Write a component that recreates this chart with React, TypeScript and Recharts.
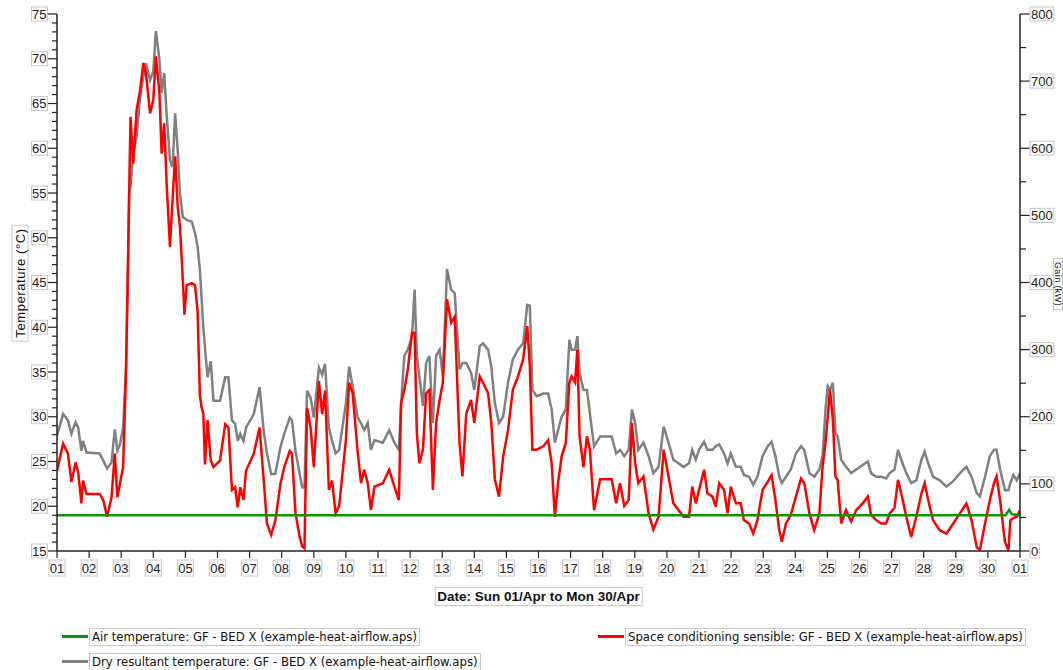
import { LineChart, Line, XAxis, YAxis } from "recharts";

const W = 1063;
const H = 670;
const PLOT_LEFT = 57;
const PLOT_RIGHT = 1020;
const PLOT_TOP = 14;
const PLOT_BOTTOM = 551;

const TICK_FONT = "'Liberation Sans', Arial, sans-serif";
const LEGEND_FONT = "'DejaVu Sans', Verdana, sans-serif";
const BOX = "#c8c8c8";
const AXIS = "#222";

// x axis: days since Sun 01/Apr 00:00
const dayTicks = [0, 1, 2, 3, 4, 5, 6, 7, 8, 9, 10, 11, 12, 13, 14, 15, 16, 17, 18, 19, 20, 21, 22, 23, 24, 25, 26, 27, 28, 29, 30];
const dayLabels = ["01", "02", "03", "04", "05", "06", "07", "08", "09", "10", "11", "12", "13", "14", "15", "16", "17", "18", "19", "20", "21", "22", "23", "24", "25", "26", "27", "28", "29", "30", "01"];
const tempTicks = [15, 20, 25, 30, 35, 40, 45, 50, 55, 60, 65, 70, 75];
const gainTicks = [0, 100, 200, 300, 400, 500, 600, 700, 800];

// minor tick marks (1 °C / 50 kW)
const tempMinor = Array.from({ length: 61 }, (_, i) => 15 + i);
const gainMinor = Array.from({ length: 17 }, (_, i) => i * 50);

const days = [
  0, 0.19, 0.34, 0.45, 0.58, 0.66, 0.76, 0.81, 0.92, 1.33, 1.44, 1.56, 1.7, 1.8, 1.88, 1.96, 2.06, 2.15, 2.2,
  2.25, 2.29, 2.375, 2.48, 2.58, 2.69, 2.77, 2.9, 3.0, 3.08, 3.19, 3.26, 3.34, 3.42, 3.52, 3.6, 3.68, 3.76, 3.83, 3.92, 3.97, 4.04, 4.2, 4.3, 4.38, 4.45, 4.5,
  4.56, 4.61, 4.69, 4.79, 4.875, 5.08, 5.24, 5.34, 5.45, 5.55, 5.63, 5.71, 5.81, 5.89, 6.13, 6.31, 6.44, 6.54, 6.67, 6.8, 6.96, 7.08, 7.25, 7.32, 7.43, 7.56, 7.64, 7.71, 7.79, 7.9, 8.0, 8.16, 8.26, 8.35, 8.47, 8.57, 8.68,
  8.79, 9.0, 9.1, 9.21, 9.36, 9.47, 9.57, 9.68, 9.78, 9.89, 10.15, 10.35, 10.51, 10.65, 10.72, 10.82, 10.93, 11.06, 11.14, 11.21,
  11.29, 11.4, 11.5, 11.6, 11.71, 11.81, 11.92, 12.02, 12.15, 12.28, 12.39, 12.54, 12.63, 12.75, 12.9, 13.0, 13.17, 13.27, 13.43, 13.53,
  13.64, 13.77, 13.9, 14.05, 14.2, 14.36, 14.52, 14.65, 14.73, 14.81, 14.94, 15.15, 15.3, 15.41, 15.51, 15.61, 15.72, 15.85, 15.96, 16.03,
  16.14, 16.21, 16.28, 16.4, 16.51, 16.6, 16.73, 16.92, 17.13, 17.28, 17.42, 17.54, 17.67, 17.81, 17.91, 18.01, 18.11, 18.27, 18.43, 18.58,
  18.74, 18.9, 19.05, 19.2, 19.36, 19.52,
  19.69, 19.79, 19.9, 20.0, 20.16, 20.26, 20.42, 20.52, 20.63, 20.78, 20.89, 20.99, 21.15, 21.3, 21.4, 21.56, 21.69, 21.82, 21.98, 22.14,
  22.26, 22.38, 22.5, 22.58, 22.71, 22.86, 23.02, 23.18, 23.28, 23.44, 23.59, 23.75, 23.85, 23.94, 24.01, 24.08, 24.17, 24.25, 24.32, 24.43,
  24.58, 24.74, 24.9, 25.1, 25.26, 25.36, 25.52, 25.68, 25.83, 25.94, 26.09, 26.2, 26.3, 26.46, 26.61, 26.77, 26.93, 27.03, 27.14, 27.29,
  27.5, 27.71, 27.92, 28.13, 28.33, 28.49, 28.65, 28.75, 28.91, 29.06, 29.19, 29.27, 29.38, 29.53, 29.64, 29.7, 29.79, 29.9, 30.0,
];

// Dry resultant temperature (°C)
const dryResultant = [
  27.9, 30.3, 29.6, 28.1, 29.4, 28.8, 26.2, 27.3, 26.0, 25.9, 25.1, 24.2, 24.9, 28.6, 26.2, 26.9, 28.8, 35.5, 44,
  55.3, 55.7, 59.4, 61.3, 65.4, 68.0, 69.5, 67.6, 68.6, 73.1, 69.9, 66.2, 68.4, 63.5, 58.7, 57.9, 63.9, 59.8, 55.0, 52.3, 52.2, 52.0, 51.8, 50.5, 49.0, 46.5, 43.5,
  39.9, 37.7, 34.4, 36.2, 31.8, 31.8, 34.4, 34.4, 29.6, 29.2, 27.3, 28.1, 27.3, 28.8, 30.3, 33.3, 28.4, 25.9, 23.6, 23.6, 26.6, 28.1, 29.9, 29.6, 26.2, 23.6, 22.1, 22.1, 32.9, 32.1, 29.9, 35.5, 34.7, 35.9, 28.8, 27.3, 25.9,
  26.3, 31.5, 35.6, 33.4, 30.0, 29.3, 28.5, 29.3, 26.3, 27.4, 27.1, 28.5, 27.1, 26.3, 31.5, 36.8, 37.5, 39.0, 44.2, 36.8,
  34.5, 31.2, 36.0, 36.8, 29.3, 36.8, 37.5, 34.5, 46.5, 44.2, 43.8, 35.3, 36.0, 36.0, 34.9, 33.0, 37.9, 38.2, 37.5, 35.6,
  31.5, 29.3, 30.0, 33.8, 36.4, 37.5, 38.2, 42.5, 42.4, 33.0, 32.3, 32.6, 32.6, 30.8, 27.1, 28.5, 30.0, 30.8, 38.6, 37.5,
  37.5, 39.0, 34.9, 33.0, 33.0, 30.4, 26.7, 27.8, 27.8, 27.8, 25.9, 26.3, 25.6, 26.3, 30.8, 29.3, 26.3, 27.1, 25.6, 23.7,
  24.4, 28.9, 27.1, 25.2, 24.8, 24.4,
  24.8, 26.3, 25.2, 26.3, 27.2, 26.3, 26.3, 26.7, 26.9, 25.9, 24.8, 25.9, 24.4, 24.4, 23.5, 23.3, 22.4, 23.3, 25.6, 26.7,
  27.2, 25.6, 23.3, 22.6, 23.3, 24.1, 25.9, 26.7, 26.3, 23.7, 23.3, 24.1, 25.6, 30.8, 33.4, 33.0, 33.8, 28.2, 27.8, 25.2,
  24.4, 23.7, 24.1, 24.6, 25.0, 23.7, 23.3, 23.3, 23.1, 23.7, 24.1, 26.3, 25.2, 23.7, 22.6, 22.9, 25.2, 26.1, 24.8, 23.3,
  22.9, 22.2, 22.8, 23.7, 24.4, 23.3, 21.5, 21.1, 23.3, 25.6, 26.3, 26.3, 24.1, 21.8, 21.8, 22.6, 23.5, 22.9, 23.7,
];

// Space conditioning sensible gain (kW)
const sensibleGain = [
  120, 160, 145, 103, 132, 117, 71, 105, 85, 85, 76, 51, 80, 145, 80, 100, 125, 268, 400,
  537, 647, 577, 657, 683, 727, 712, 652, 672, 737, 683, 592, 637, 543, 453, 523, 588, 513, 483, 404, 352, 396, 399, 396, 357, 233, 215,
  204, 129, 195, 135, 125, 135, 189, 184, 91, 95, 65, 95, 76, 120, 145, 184, 105, 41, 24, 45, 100, 125, 149, 145, 56, 21, 7, 4, 213, 184, 125, 253, 204, 239, 91, 105, 56,
  67, 165, 251, 235, 151, 101, 121, 101, 61, 96, 101, 121, 96, 76, 220, 240, 271, 325, 325, 176,
  131, 151, 235, 240, 91, 191, 225, 251, 375, 340, 349, 161, 111, 205, 225, 191, 260, 251, 235, 191,
  107, 81, 141, 180, 240, 260, 285, 335, 275, 151, 151, 156, 165, 131, 51, 101, 141, 161, 251, 260,
  251, 300, 171, 125, 171, 151, 61, 107, 107, 107, 71, 101, 67, 76, 191, 131, 101, 111, 56, 32,
  51, 151, 111, 71, 61, 51,
  51, 96, 71, 91, 121, 86, 81, 66, 101, 91, 56, 96, 71, 71, 46, 41, 26, 46, 91, 103,
  113, 76, 31, 14, 41, 54, 81, 108, 101, 56, 31, 56, 126, 161, 200, 240, 196, 111, 106, 41,
  61, 44, 61, 71, 81, 54, 46, 41, 41, 56, 64, 106, 86, 51, 21, 51, 86, 101, 76, 46,
  31, 26, 41, 56, 71, 46, 6, 1, 41, 76, 101, 111, 76, 14, 1, 46, 49, 51, 61,
];

// Air temperature (°C)
const airDays = [0, 29.55, 29.66, 29.75, 30];
const airTemp = [19, 19, 19.6, 19.1, 19];

const mainData = days.map((d, i) => ({ d, dry: dryResultant[i], gain: sensibleGain[i] }));
const airData = airDays.map((d, i) => ({ d, air: airTemp[i] }));

function LeftTick(props: any) {
  const { y, payload } = props;
  const v = payload.value;
  const major = tempTicks.includes(v);
  return (
    <g>
      <line x1={PLOT_LEFT - (major ? 9 : 5)} x2={PLOT_LEFT} y1={y} y2={y} stroke={AXIS} strokeWidth={1.2} />
      {major && (
        <g>
          <rect x={PLOT_LEFT - 25.5} y={y - 7} width={16} height={14} fill="#fff" stroke={BOX} />
          <text x={PLOT_LEFT - 10.5} y={y + 4.6} textAnchor="end" fontSize={13} fill="#222" fontFamily={TICK_FONT}>
            {v}
          </text>
        </g>
      )}
    </g>
  );
}

function RightTick(props: any) {
  const { y, payload } = props;
  const v = payload.value;
  const major = gainTicks.includes(v);
  const w = String(v).length * 7.3 + 2;
  return (
    <g>
      <line x1={PLOT_RIGHT} x2={PLOT_RIGHT + (major ? 10 : 6)} y1={y} y2={y} stroke={AXIS} strokeWidth={1.2} />
      {major && (
        <g>
          <rect x={PLOT_RIGHT + 10} y={y - 7} width={w} height={14} fill="#fff" stroke={BOX} />
          <text x={PLOT_RIGHT + 11} y={y + 4.6} fontSize={13} fill="#222" fontFamily={TICK_FONT}>
            {v}
          </text>
        </g>
      )}
    </g>
  );
}

function DayTick(props: any) {
  const { x, payload } = props;
  const label = dayLabels[dayTicks.indexOf(payload.value)];
  return (
    <g>
      <line x1={x} x2={x} y1={PLOT_BOTTOM} y2={PLOT_BOTTOM + 7} stroke={AXIS} strokeWidth={1.2} />
      <rect x={x - 8} y={PLOT_BOTTOM + 9} width={16} height={16} fill="#fff" stroke={BOX} />
      <text x={x} y={PLOT_BOTTOM + 21.5} textAnchor="middle" fontSize={13} fill="#222" fontFamily={TICK_FONT}>
        {label}
      </text>
    </g>
  );
}

const boxText: React.CSSProperties = {
  position: "absolute",
  border: `1px solid ${BOX}`,
  background: "#fff",
  whiteSpace: "nowrap",
  color: "#111",
};

function LegendItem({ left, top, color, text }: { left: number; top: number; color: string; text: string }) {
  return (
    <>
      <div style={{ position: "absolute", left, top: top - 1.5, width: 26, height: 3, background: color }} />
      <div
        style={{
          ...boxText,
          left: left + 27,
          top: top - 8.5,
          height: 16,
          lineHeight: "16px",
          padding: "0 2px",
          fontSize: 11.7,
          fontFamily: LEGEND_FONT,
        }}
      >
        {text}
      </div>
    </>
  );
}

export default function App() {
  return (
    <div style={{ position: "fixed", left: 0, top: 0, width: W, height: H, background: "#fff", overflow: "hidden" }}>
      <LineChart
        width={W}
        height={H}
        data={mainData}
        margin={{ top: PLOT_TOP, right: W - PLOT_RIGHT - 40, bottom: H - PLOT_BOTTOM - 30, left: PLOT_LEFT - 50 }}
      >
        <XAxis
          type="number"
          dataKey="d"
          domain={[0, 30]}
          ticks={dayTicks}
          interval={0}
          height={30}
          tick={(p: any) => <DayTick {...p} />}
          tickLine={false}
          axisLine={{ stroke: AXIS, strokeWidth: 1.5 }}
          allowDataOverflow
        />
        <YAxis
          yAxisId="left"
          domain={[15, 75]}
          ticks={tempMinor}
          interval={0}
          width={50}
          tick={(p: any) => <LeftTick {...p} />}
          tickLine={false}
          axisLine={{ stroke: AXIS, strokeWidth: 1.5 }}
          allowDataOverflow
        />
        <YAxis
          yAxisId="right"
          orientation="right"
          domain={[0, 800]}
          ticks={gainMinor}
          interval={0}
          width={40}
          tick={(p: any) => <RightTick {...p} />}
          tickLine={false}
          axisLine={{ stroke: AXIS, strokeWidth: 1.5 }}
          allowDataOverflow
        />
        <Line yAxisId="left" type="linear" dataKey="dry" stroke="#808080" strokeWidth={2.5} dot={false} isAnimationActive={false} />
        <Line yAxisId="right" type="linear" dataKey="gain" stroke="#ff0000" strokeWidth={2.5} dot={false} isAnimationActive={false} />
        <Line
          yAxisId="left"
          type="linear"
          data={airData}
          dataKey="air"
          stroke="#0a960a"
          strokeWidth={2.5}
          dot={false}
          isAnimationActive={false}
        />
      </LineChart>

      <div
        style={{
          ...boxText,
          left: 19.5,
          top: 283,
          transform: "translate(-50%, -50%) rotate(-90deg)",
          padding: "0 3px",
          fontSize: 13,
          lineHeight: "15px",
          letterSpacing: 0.6,
          fontFamily: TICK_FONT,
        }}
      >
        Temperature (°C)
      </div>
      <div
        style={{
          ...boxText,
          left: 1058,
          top: 284,
          transform: "translate(-50%, -50%) rotate(90deg)",
          padding: "0 3px",
          fontSize: 9,
          lineHeight: "8px",
          letterSpacing: 0.4,
          fontFamily: TICK_FONT,
        }}
      >
        Gain (kW)
      </div>

      <div
        style={{
          ...boxText,
          left: 538.5,
          top: 587,
          transform: "translateX(-50%)",
          height: 17,
          lineHeight: "17px",
          padding: "0 2px",
          fontSize: 13.5,
          fontWeight: "bold",
          fontFamily: TICK_FONT,
        }}
      >
        Date: Sun 01/Apr to Mon 30/Apr
      </div>

      <LegendItem left={62} top={636} color="#0a960a" text="Air temperature: GF - BED X (example-heat-airflow.aps)" />
      <LegendItem left={598} top={636} color="#ff0000" text="Space conditioning sensible: GF - BED X (example-heat-airflow.aps)" />
      <LegendItem left={62} top={661} color="#808080" text="Dry resultant temperature: GF - BED X (example-heat-airflow.aps)" />
    </div>
  );
}
